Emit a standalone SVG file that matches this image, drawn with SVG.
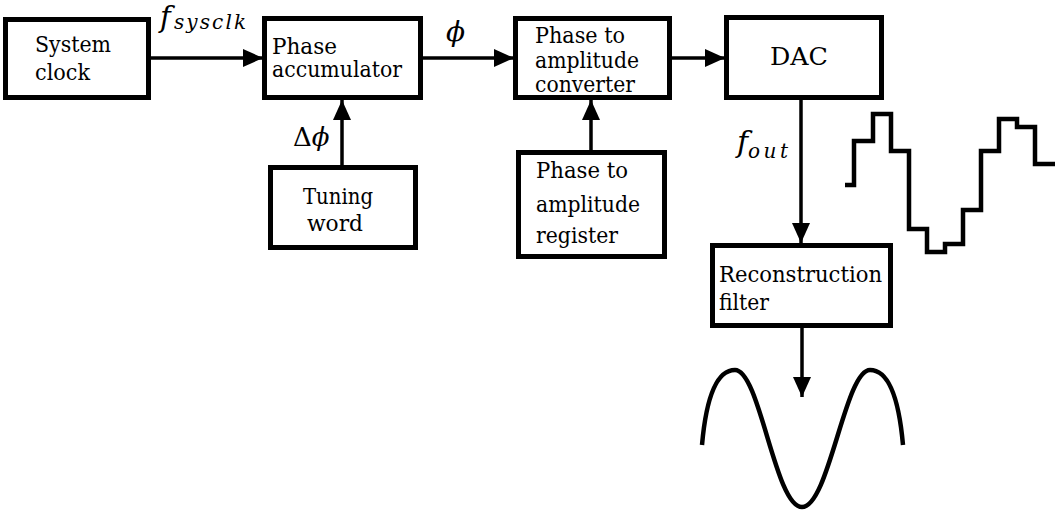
<svg xmlns="http://www.w3.org/2000/svg" width="1055" height="512" viewBox="0 0 1055 512">
<style>
.box{fill:#fff;stroke:#000;stroke-width:5}
.math{font-style:italic;fill:#000}
.conn{stroke:#000;stroke-width:3.5;fill:none}
.wave{stroke:#000;stroke-width:4.5;fill:none;stroke-linejoin:miter;stroke-linecap:butt}
</style>
<defs>
<marker id="ah" markerUnits="userSpaceOnUse" markerWidth="20" markerHeight="18" refX="20" refY="9" orient="auto">
<path d="M0,0 L20,9 L0,18 z" fill="#000"/>
</marker>
</defs>
<rect width="1055" height="512" fill="#fff"/>
<g id="connectors">
<line class="conn" x1="151" y1="58" x2="263" y2="58" marker-end="url(#ah)"/>
<line class="conn" x1="423" y1="58" x2="514" y2="58" marker-end="url(#ah)"/>
<line class="conn" x1="672" y1="58" x2="725" y2="58" marker-end="url(#ah)"/>
<line class="conn" x1="342" y1="165" x2="342" y2="100" marker-end="url(#ah)"/>
<line class="conn" x1="591" y1="150" x2="591" y2="100" marker-end="url(#ah)"/>
<line class="conn" x1="801" y1="100" x2="801" y2="243" marker-end="url(#ah)"/>
<line class="conn" x1="802" y1="328" x2="802" y2="397" marker-end="url(#ah)"/>
</g>
<g font-family="DejaVu Serif, serif">
<g id="label-fsysclk">
<text class="math" x="160" y="27" font-size="29">f</text>
<text class="math" x="174" y="29" font-size="20" textLength="72" lengthAdjust="spacing">sysclk</text>
</g>
<g id="label-phi"><text class="math" x="446" y="41" font-size="28">ϕ</text></g>
<g id="label-dphi"><text x="293" y="146" font-size="26" class="math"><tspan font-style="normal">Δ</tspan>ϕ</text></g>
<g id="label-fout">
<text class="math" x="737" y="152" font-size="30">f</text>
<text class="math" x="748" y="158" font-size="20" textLength="40" lengthAdjust="spacing">out</text>
</g>
</g>
<g font-family="DejaVu Serif, serif" font-size="23">
<g id="system-clock">
<rect class="box" x="5.5" y="19.5" width="143" height="78"/>
<text x="35" y="52" textLength="76" lengthAdjust="spacingAndGlyphs">System</text>
<text x="35" y="80" textLength="55" lengthAdjust="spacingAndGlyphs">clock</text>
</g>
<g id="phase-accumulator">
<rect class="box" x="264.5" y="18.5" width="156" height="79"/>
<text x="272" y="54" font-size="22" textLength="65" lengthAdjust="spacingAndGlyphs">Phase</text>
<text x="272" y="77" font-size="22" textLength="130" lengthAdjust="spacingAndGlyphs">accumulator</text>
</g>
<g id="phase-to-amplitude-converter">
<rect class="box" x="515.5" y="18.5" width="154" height="79"/>
<text x="535" y="43" font-size="22" textLength="90" lengthAdjust="spacingAndGlyphs">Phase to</text>
<text x="535" y="68" font-size="22" textLength="104" lengthAdjust="spacingAndGlyphs">amplitude</text>
<text x="535" y="92" font-size="22" textLength="100" lengthAdjust="spacingAndGlyphs">converter</text>
</g>
<g id="dac">
<rect class="box" x="726.5" y="17.5" width="155" height="80"/>
<text x="770" y="65" font-size="24" textLength="58" lengthAdjust="spacingAndGlyphs">DAC</text>
</g>
<g id="tuning-word">
<rect class="box" x="270.5" y="167.5" width="145" height="80"/>
<text x="303" y="204" textLength="70" lengthAdjust="spacingAndGlyphs">Tuning</text>
<text x="307" y="231" textLength="56" lengthAdjust="spacingAndGlyphs">word</text>
</g>
<g id="phase-to-amplitude-register">
<rect class="box" x="518.5" y="152.5" width="146" height="104"/>
<text x="536" y="178" textLength="92" lengthAdjust="spacingAndGlyphs">Phase to</text>
<text x="536" y="212" textLength="104" lengthAdjust="spacingAndGlyphs">amplitude</text>
<text x="536" y="243" textLength="82" lengthAdjust="spacingAndGlyphs">register</text>
</g>
<g id="reconstruction-filter">
<rect class="box" x="712.5" y="245.5" width="178" height="80"/>
<text x="719" y="282" textLength="163" lengthAdjust="spacingAndGlyphs">Reconstruction</text>
<text x="719" y="310" textLength="50" lengthAdjust="spacingAndGlyphs">filter</text>
</g>
</g>
<g id="staircase-wave">
<polyline class="wave" points="845,185 854,185 854,141 873,141 873,114 891,114 891,151 909,151 909,229 927,229 927,252 945,252 945,244 963,244 963,210 981,210 981,151 999,151 999,119 1017,119 1017,127 1035,127 1035,164 1055,164"/>
</g>
<g id="sine-wave">
<path class="wave" d="M702,445 C706,400 716,370 735,370 C760,370 775,507 802,507 C829,507 845,370 870,370 C889,370 899,400 903,445"/>
</g>
</svg>
